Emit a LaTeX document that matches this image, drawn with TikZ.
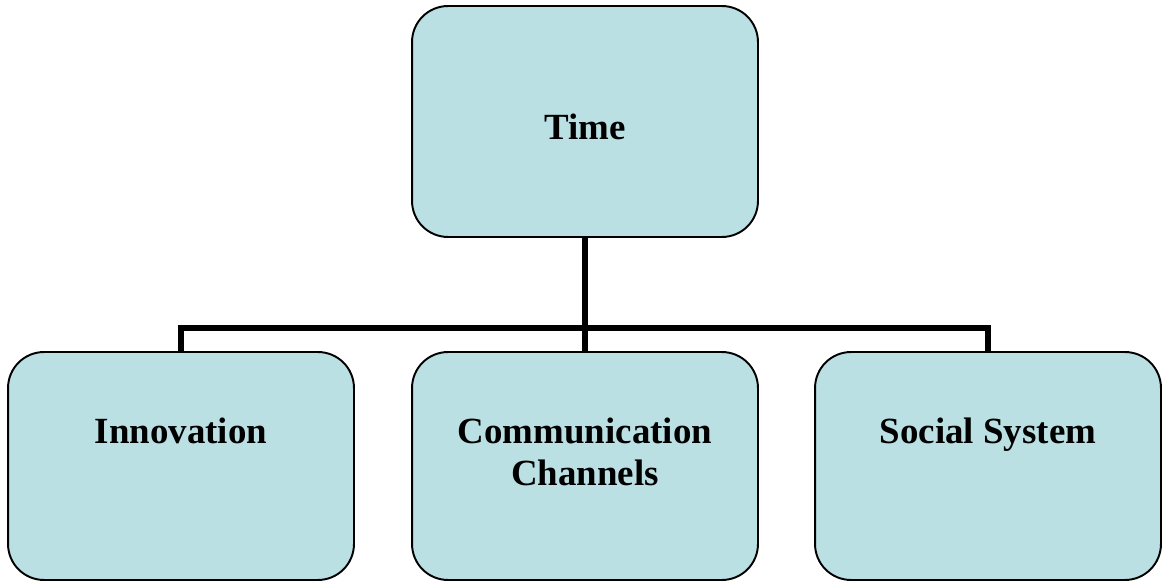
\documentclass[tikz,border=0pt]{standalone}
\usepackage{fontspec}
\setmainfont{Liberation Serif}
\definecolor{boxfill}{RGB}{186,224,227}
\begin{document}
\begin{tikzpicture}[x=0.02cm,y=-0.02cm,
  box/.style={draw=black,line width=1.1pt,fill=boxfill,rounded corners=0.72cm,inner sep=0pt,minimum width=6.92cm},
  topbox/.style={box,minimum height=4.62cm},
  botbox/.style={box,minimum height=4.56cm},
  lbl/.style={font=\fontsize{21}{23.8}\selectfont\bfseries,align=center,inner sep=0pt},
  conn/.style={draw=black,line width=2.9pt,line join=miter}]
\useasboundingbox (0,0) rectangle (1164,581);
\node[topbox] (time) at (585,121.5) {};
\node[botbox] (inn) at (181,466) {};
\node[botbox] (comm) at (585,466) {};
\node[botbox] (soc) at (988,466) {};
\coordinate (bus) at (0,328);
\draw[conn] (time.south) -- (comm.north);
\draw[conn] (inn.north) -- (inn.north |- bus) -- (soc.north |- bus) -- (soc.north);
\node[lbl,anchor=base] (tlbl) at (585,140) {Time};
\node[lbl,anchor=base] (ilbl) at (181,443) {Innovation};
\node[lbl] (clbl) at (585,452) {Communication\\Channels};
\node[lbl,anchor=base] (slbl) at (988,443) {Social System};
\end{tikzpicture}
\end{document}
